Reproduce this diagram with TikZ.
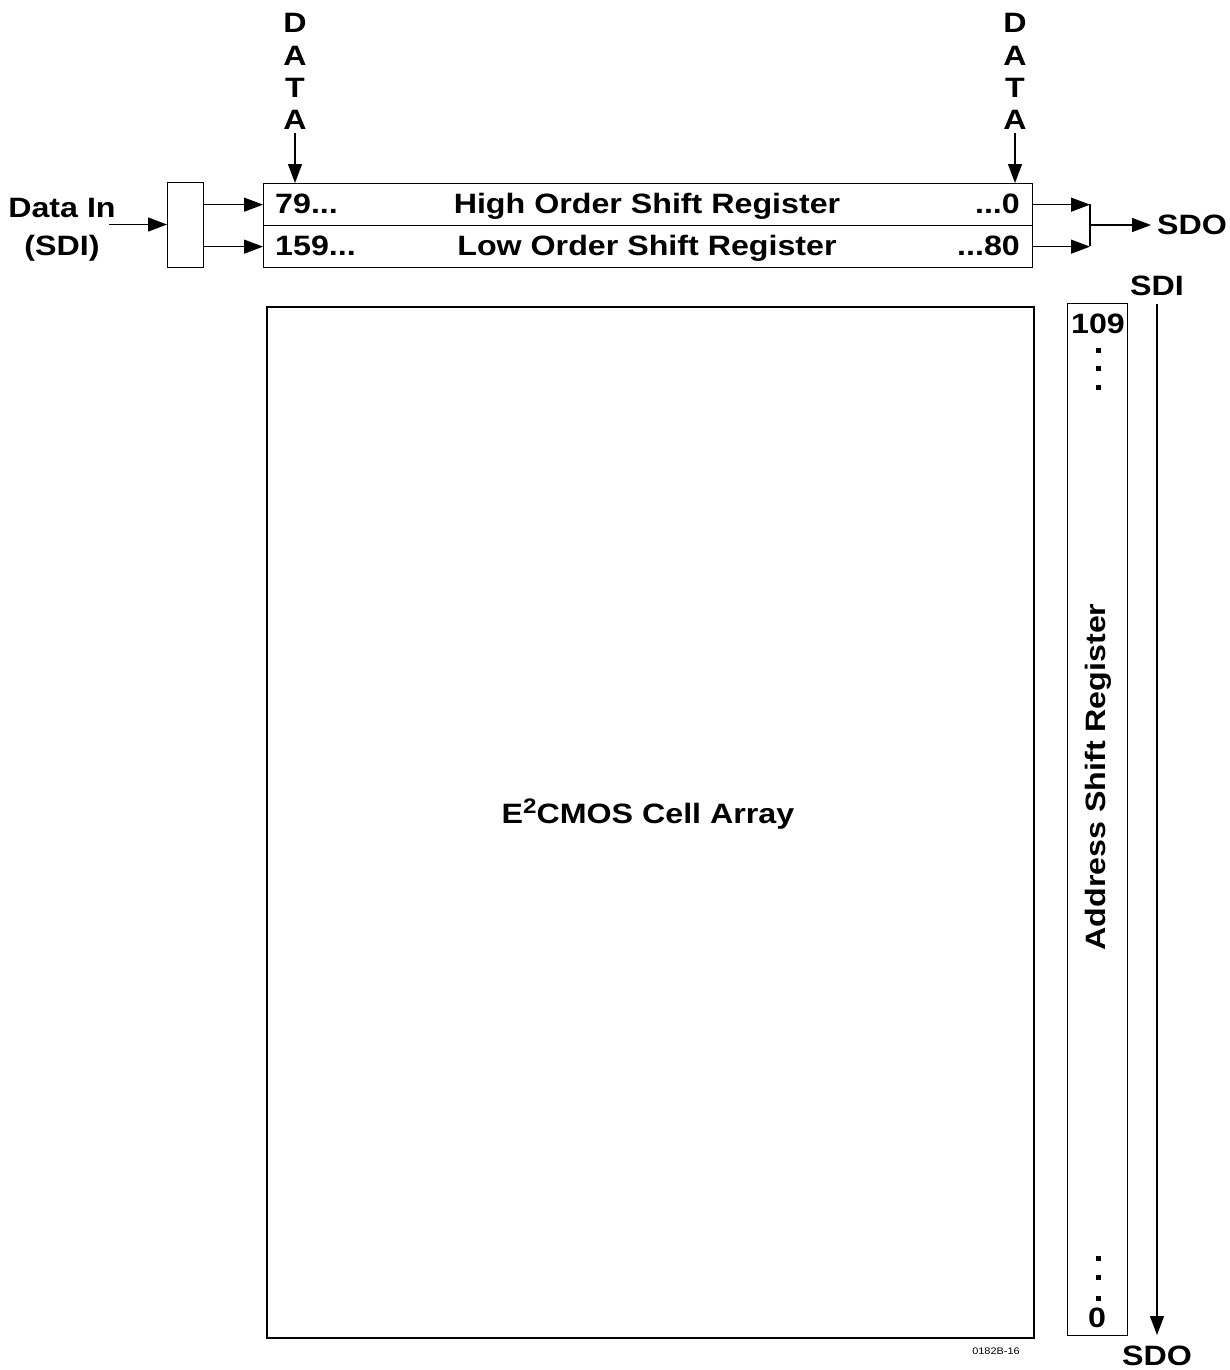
\documentclass[tikz,border=0pt]{standalone}
\usepackage{fontspec}
\setmainfont{Liberation Sans}[FakeStretch=1.15]
\usetikzlibrary{arrows.meta}
\begin{document}
\begin{tikzpicture}[x=1pt,y=-1pt,
  lbl/.style={font=\fontsize{28}{30}\selectfont\bfseries, inner sep=0pt},
  bl/.style={lbl, anchor=base},
  dotmark/.style={fill=black, inner sep=0pt, minimum size=5pt},
  box/.style={draw, line width=1.3pt, inner sep=0pt, anchor=north west},
  thickbox/.style={draw, line width=2pt, inner sep=0pt, anchor=north west},
  arr/.style={line width=1.3pt, -{Triangle[length=19pt,width=14pt]}},
  wire/.style={line width=1.3pt}]
\useasboundingbox (0,0) rectangle (1229,1370);

% registers
\node[box, minimum width=769pt, minimum height=42pt] (hreg) at (263,183) {};
\node[box, minimum width=769pt, minimum height=42pt] (lreg) at (263,225) {};
\node[bl, anchor=base west] (h79) at (275,213) {79...};
\node[bl] (htxt) at (647,213) {High Order Shift Register};
\node[bl, anchor=base east] (h0) at (1020,213) {...0};
\node[bl, anchor=base west] (l159) at (275,255) {159...};
\node[bl] (ltxt) at (647,255) {Low Order Shift Register};
\node[bl, anchor=base east] (l80) at (1020,255) {...80};

% input box
\node[box, minimum width=36pt, minimum height=85pt] (mux) at (167,182) {};
\node[bl] (din) at (62,217) {Data In};
\node[bl] (sdi1) at (62,255) {(SDI)};
\coordinate (dinend) at (109,224.5);
\draw[arr] (dinend) -- (dinend -| mux.west);
\draw[arr] (mux.east |- hreg.west) -- (hreg.west);
\draw[arr] (mux.east |- lreg.west) -- (lreg.west);

% DATA labels
\foreach \n/\x in {dl/295, dr/1015}{
  \node[bl] (\n1) at (\x,33) {D};
  \node[bl] (\n2) at (\x,66) {A};
  \node[bl] (\n3) at (\x,98) {T};
  \node[bl] (\n4) at (\x,130) {A};
  \coordinate (\n s) at (\x,133);
}
\draw[arr] (dls) -- (dls |- hreg.north);
\draw[arr] (drs) -- (drs |- hreg.north);

% output merge
\coordinate (jt) at (1090,204);
\coordinate (jb) at (1090,246);
\coordinate (jm) at (1090,225);
\coordinate (sdoarr) at (1151,225);
\node[bl, anchor=base west] (sdo1) at (1157,234) {SDO};
\draw[arr] (hreg.east) -- (hreg.east -| jt);
\draw[arr] (lreg.east) -- (lreg.east -| jb);
\draw[wire] (jt) -- (jb);
\draw[arr] (jm) -- (sdoarr);

% cell array
\node[thickbox, minimum width=767pt, minimum height=1031pt] (cell) at (266,306) {};
\node[bl] (celltxt) at (648,823) {E\raisebox{10pt}{\fontsize{21}{21}\selectfont 2}CMOS Cell Array};
\node[font=\fontsize{9.5}{10}\selectfont, inner sep=0pt, anchor=base] (code) at (996,1354) {0182B-16};

% address register
\node[box, minimum width=60pt, minimum height=1032pt] (addr) at (1067,303) {};
\node[bl] (a109) at (1098,333) {109};
\foreach \y [count=\i] in {350,368,387}{\node[dotmark] (dt\i) at (1098,\y) {};}
\foreach \y [count=\i] in {1258,1277,1298}{\node[dotmark] (db\i) at (1098,\y) {};}
\node[bl] (a0) at (1097,1327) {0};
\node[lbl, rotate=90] (atxt) at (1098,777) {Address Shift Register};

% SDI -> SDO
\node[bl] (sdi2) at (1157,295) {SDI};
\node[bl] (sdo2) at (1157,1365) {SDO};
\coordinate (st) at (1157,304);
\coordinate (sb) at (1157,1335);
\draw[arr] (st) -- (sb);
\end{tikzpicture}
\end{document}
